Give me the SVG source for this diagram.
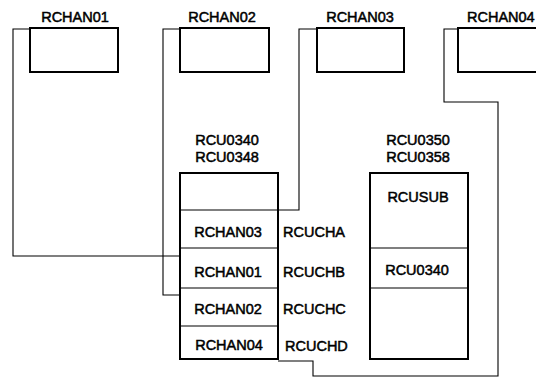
<svg xmlns="http://www.w3.org/2000/svg" width="536" height="379" viewBox="0 0 536 379">
<style>
.box{fill:#fff;stroke:#000;stroke-width:2}
.div{stroke:#000;stroke-width:1.2;fill:none}
.conn{fill:none;stroke:#000;stroke-width:1.1}
text{font-family:"Liberation Sans",Arial,sans-serif;font-size:14.5px;fill:#000;stroke:#000;stroke-width:0.5}
.c{text-anchor:middle}
</style>
<rect width="536" height="379" fill="#fff"/>
<g id="connectors">
<polyline class="conn" points="30,29 13,29 13,256 180,256"/>
<polyline class="conn" points="180,29 163,29 163,295 180,295"/>
<polyline class="conn" points="317,29 299,29 299,210 278,210"/>
<polyline class="conn" points="458,29 444,29 444,102 498,102 498,376 313,376 313,361 278,361"/>
</g>
<g id="RCHAN01">
<rect class="box" x="30" y="28" width="88" height="44"/>
<text class="c" x="75" y="22">RCHAN01</text>
</g>
<g id="RCHAN02">
<rect class="box" x="180" y="28" width="89" height="44"/>
<text class="c" x="222" y="22">RCHAN02</text>
</g>
<g id="RCHAN03">
<rect class="box" x="317" y="28" width="87" height="44"/>
<text class="c" x="360" y="22">RCHAN03</text>
</g>
<g id="RCHAN04">
<rect class="box" x="458" y="28" width="90" height="44"/>
<text x="467" y="22">RCHAN04</text>
</g>
<g id="RCU0340">
<text class="c" x="227" y="145">RCU0340</text>
<text class="c" x="227" y="162">RCU0348</text>
<rect class="box" x="180" y="173" width="98" height="186"/>
<line class="div" x1="180" y1="210" x2="278" y2="210"/>
<line class="div" x1="180" y1="248" x2="278" y2="248"/>
<line class="div" x1="180" y1="288" x2="278" y2="288"/>
<line class="div" x1="180" y1="326" x2="278" y2="326"/>
<text class="c" x="228" y="237">RCHAN03</text>
<text class="c" x="228" y="277">RCHAN01</text>
<text class="c" x="228" y="314">RCHAN02</text>
<text class="c" x="229" y="350">RCHAN04</text>
<text x="283" y="237">RCUCHA</text>
<text x="283" y="277">RCUCHB</text>
<text x="283" y="314">RCUCHC</text>
<text x="285" y="351">RCUCHD</text>
</g>
<g id="RCU0350">
<text class="c" x="418" y="145">RCU0350</text>
<text class="c" x="418" y="162">RCU0358</text>
<rect class="box" x="370" y="173" width="98" height="186"/>
<line class="div" x1="370" y1="248" x2="468" y2="248"/>
<line class="div" x1="370" y1="288" x2="468" y2="288"/>
<text class="c" x="418" y="202">RCUSUB</text>
<text class="c" x="417" y="275">RCU0340</text>
</g>
</svg>
